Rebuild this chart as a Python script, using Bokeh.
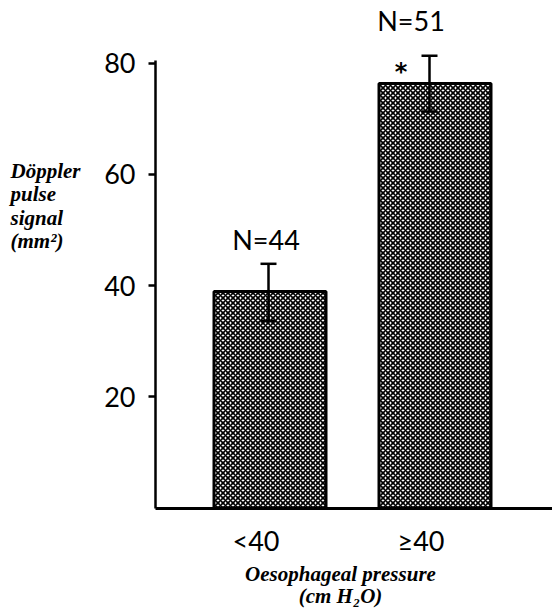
from bokeh.plotting import figure
from bokeh.models import Label, Range1d, FixedTicker, LinearAxis
from bokeh.embed import file_html
from bokeh.resources import INLINE

# ---- data ----
categories = ["<40", "≥40"]
means = [38.9, 76.3]
err_low = [33.6, 71.3]
err_high = [43.9, 81.3]
n_labels = ["N=44", "N=51"]
y_ticks = [20, 40, 60, 80]
y_title_lines = ["Döppler", "pulse", "signal", "(mm²)"]
x_title_lines = ["Oesophageal pressure", "(cm H₂O)"]

xs = list(range(1, len(categories) + 1))

# ---- layout / styles ----
W, H = 552, 610
PX_X = 165.0            # px per x unit
PX_Y = 5.5625           # px per y unit
X1_PX = 269.5           # page px of first bar centre
Y0_PX = 507.5           # page px of y = 0
AXIS_X_PX = 155         # page px of y axis line


def dx(px):
    return px / PX_X


def xpx(px):
    return 1 + (px - X1_PX) / PX_X


def ypx(py):
    return (Y0_PX - py) / PX_Y


NUM_FONT = "Lato"
NUM_SIZE = "27px"
SERIF = "Liberation Serif"
SERIF_SIZE = "21px"

p = figure(width=W, height=H,
           x_range=Range1d(xpx(0), xpx(W)), y_range=Range1d(ypx(H), ypx(0)),
           output_backend="svg", toolbar_location=None,
           x_axis_type=None, y_axis_type=None,
           min_border_left=0, min_border_right=0,
           min_border_top=0, min_border_bottom=0)
p.outline_line_color = None
p.background_fill_color = "white"
p.border_fill_color = "white"

p.vbar(x=xs, top=means, width=dx(112), bottom=0,
       fill_color="white", hatch_pattern="x", hatch_color="black",
       hatch_scale=5.0, hatch_weight=1.7,
       line_color="black", line_width=3)

# error bars (drawn slightly left of bar centre, as in the original)
err_dx = [dx(-1.5), dx(-5.5)]
ex = [x + d for x, d in zip(xs, err_dx)]
cap = dx(8)
p.segment(x0=ex, y0=err_low, x1=ex, y1=err_high, line_color="black", line_width=2.5)
p.segment(x0=[x - cap for x in ex], y0=err_high, x1=[x + cap for x in ex], y1=err_high,
          line_color="black", line_width=2.5)
p.segment(x0=[x - cap for x in ex], y0=err_low, x1=[x + cap for x in ex], y1=err_low,
          line_color="black", line_width=2.5)

# y axis
yax = LinearAxis(fixed_location=xpx(AXIS_X_PX), bounds=(0, 80.5),
                 ticker=FixedTicker(ticks=y_ticks))
yax.axis_line_width = 2.5
yax.axis_line_color = "black"
yax.major_tick_in = 0
yax.major_tick_out = 7
yax.major_tick_line_width = 2.5
yax.minor_tick_line_color = None
yax.major_label_text_font = NUM_FONT
yax.major_label_text_font_size = NUM_SIZE
yax.major_label_text_color = "black"
yax.major_label_standoff = 13
p.add_layout(yax, "left")

# x axis with category labels
tick_pos = [x - dx(14) for x in xs]
xax = LinearAxis(fixed_location=0, bounds=(xpx(AXIS_X_PX), xpx(W)),
                 ticker=FixedTicker(ticks=tick_pos),
                 major_label_overrides={t: c for t, c in zip(tick_pos, categories)})
xax.axis_line_width = 3
xax.axis_line_color = "black"
xax.major_tick_line_color = None
xax.major_tick_in = 0
xax.major_tick_out = 0
xax.minor_tick_line_color = None
xax.major_label_text_font = NUM_FONT
xax.major_label_text_font_size = NUM_SIZE
xax.major_label_text_color = "black"
xax.major_label_standoff = 16
p.add_layout(xax, "below")

# N labels
n_dx = [dx(-4), dx(-24)]
n_dy = [24, 35]
for x, e, t, d, h in zip(xs, err_high, n_labels, n_dx, n_dy):
    p.add_layout(Label(x=x + d, y=e + h / PX_Y, text=t, text_align="center",
                       text_baseline="middle", text_font=NUM_FONT,
                       text_font_size=NUM_SIZE, text_color="black"))

# significance asterisk
p.add_layout(Label(x=xs[1] + dx(-34), y=means[1] + 12 / PX_Y, text="*",
                   text_align="center", text_baseline="middle",
                   text_font="DejaVu Sans", text_font_style="bold",
                   text_font_size="24px", text_color="black"))

# y title (horizontal, stacked)
for i, line in enumerate(y_title_lines):
    p.add_layout(Label(x=xpx(10), y=ypx(170 + 23.5 * i), text=line,
                       text_align="left", text_baseline="alphabetic",
                       text_font=SERIF, text_font_style="bold italic",
                       text_font_size=SERIF_SIZE, text_color="black"))

# x title
for i, line in enumerate(x_title_lines):
    p.add_layout(Label(x=xpx(340), y=ypx(573 + 22 * i), text=line,
                       text_align="center", text_baseline="alphabetic",
                       text_font=SERIF, text_font_style="bold italic",
                       text_font_size=SERIF_SIZE, text_color="black"))

open("out.html", "w").write(file_html(p, INLINE))
